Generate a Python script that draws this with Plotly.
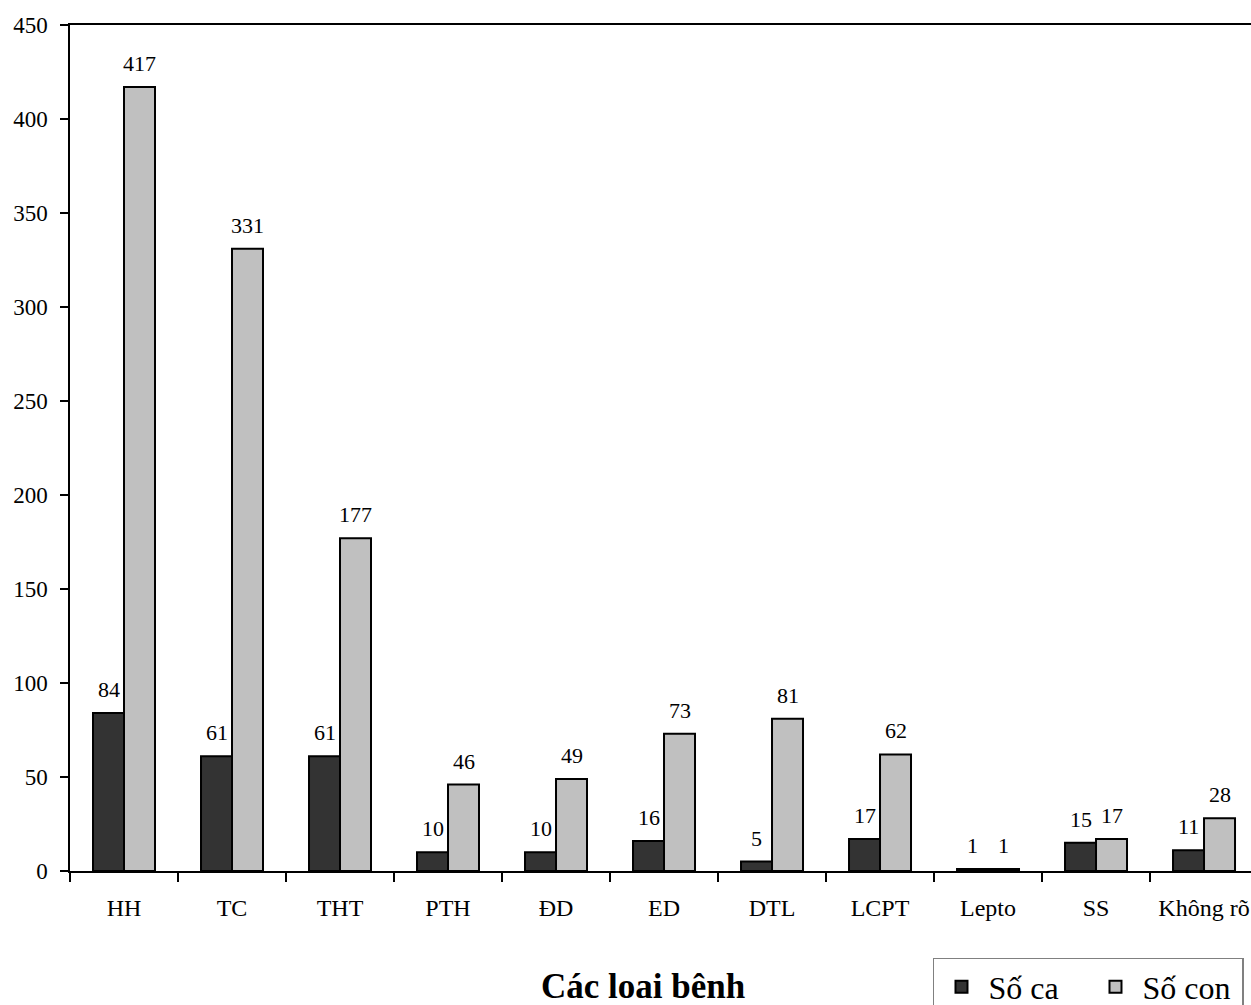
import plotly.graph_objects as go

categories = ["HH", "TC", "THT", "PTH", "ĐD", "ED", "DTL", "LCPT", "Lepto", "SS", "Không rõ"]
so_ca = [84, 61, 61, 10, 10, 16, 5, 17, 1, 15, 11]
so_con = [417, 331, 177, 46, 49, 73, 81, 62, 1, 17, 28]
y_ticks = [0, 50, 100, 150, 200, 250, 300, 350, 400, 450]

FONT = "Liberation Serif, Times New Roman, serif"

fig = go.Figure()
fig.add_trace(go.Bar(
    x=categories, y=so_ca, name="Số ca",
    marker=dict(color="#333333", line=dict(color="black", width=2)),
))
fig.add_trace(go.Bar(
    x=categories, y=so_con, name="Số con",
    marker=dict(color="#c0c0c0", line=dict(color="black", width=2)),
))

# value labels above each bar
for series, shift in ((so_ca, -15.5), (so_con, 15.5)):
    for cat, val in zip(categories, series):
        fig.add_annotation(
            x=cat, y=val, xref="x", yref="y", text=str(val), showarrow=False,
            xanchor="center", yanchor="bottom", xshift=shift, yshift=9,
            font=dict(family=FONT, size=22, color="black"),
        )

fig.update_layout(
    width=1251, height=1005,
    margin=dict(l=70, r=0, t=25, b=134, autoexpand=False),
    paper_bgcolor="white", plot_bgcolor="white",
    barmode="group", bargap=0.426, bargroupgap=0,
    font=dict(family=FONT, size=22, color="black"),
    showlegend=True,
    legend=dict(
        orientation="h", xref="container", yref="container",
        x=0.7458, y=0.0468, xanchor="left", yanchor="top",
        bordercolor="#808080", borderwidth=1.5,
        font=dict(family=FONT, size=32, color="black"),
        traceorder="normal", itemwidth=44, entrywidth=95,
    ),
)
fig.update_xaxes(
    type="category", range=[-0.5, 10.435],
    showline=True, linecolor="black", linewidth=1.5, mirror=True,
    ticks="outside", tickson="boundaries", ticklen=9, tickcolor="black", tickwidth=1.5,
    ticklabelstandoff=14,
    showgrid=False, tickfont=dict(family=FONT, size=24, color="black"),
)
fig.update_yaxes(
    range=[0, 450], tickvals=y_ticks,
    showline=True, linecolor="black", linewidth=1.5,
    ticks="outside", ticklen=8, tickcolor="black", tickwidth=1.5,
    ticklabelstandoff=8,
    showgrid=False, zeroline=False,
    tickfont=dict(family=FONT, size=23, color="black"),
)
fig.add_annotation(
    text="<b>Các loai bênh</b>", xref="paper", yref="paper",
    x=0.485, y=-0.137, xanchor="center", yanchor="middle", showarrow=False,
    font=dict(family=FONT, size=35, color="black"),
)

fig.write_html(
    "out.html",
    config={"displayModeBar": False, "responsive": False},
    post_script="document.body.style.margin='0';",
)
